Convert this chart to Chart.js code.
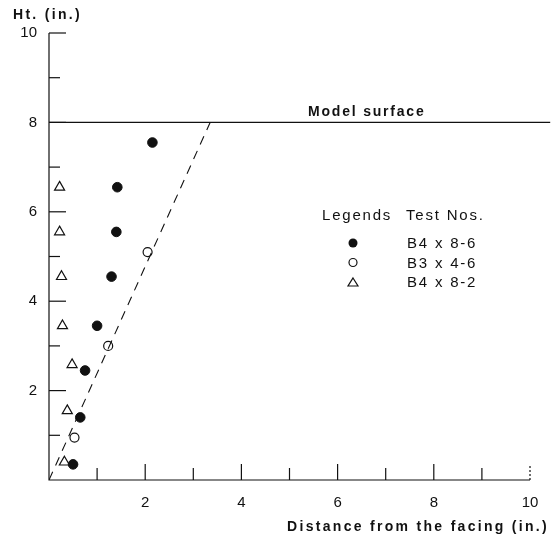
<!DOCTYPE html>
<html>
<head>
<meta charset="utf-8">
<script src="https://cdn.jsdelivr.net/npm/chart.js@4.4.1/dist/chart.umd.min.js"></script>
<style>
  html, body { margin: 0; padding: 0; background: #fff; }
  #wrap { width: 556px; height: 538px; }
</style>
</head>
<body>
<div id="wrap"><canvas id="htChart" width="556" height="538"></canvas></div>
<script>
// readings, x = distance from facing (in.), y = height (in.)
const B4_8_6 = [
  { x: 2.15, y: 7.55 }, { x: 1.42, y: 6.55 }, { x: 1.4, y: 5.55 },
  { x: 1.3, y: 4.55 }, { x: 1.0, y: 3.45 }, { x: 0.75, y: 2.45 },
  { x: 0.65, y: 1.4 }, { x: 0.5, y: 0.35 },
];
const B3_4_6 = [{ x: 2.05, y: 5.1 }, { x: 1.23, y: 3.0 }, { x: 0.53, y: 0.95 }];
const B4_8_2 = [
  { x: 0.22, y: 6.55 }, { x: 0.22, y: 5.55 }, { x: 0.26, y: 4.55 },
  { x: 0.28, y: 3.45 }, { x: 0.48, y: 2.58 }, { x: 0.38, y: 1.55 },
  { x: 0.32, y: 0.4 },
];
const failureLine = [{ x: 0, y: 0 }, { x: 3.35, y: 8 }];
const modelSurface = [{ x: 0, y: 8 }, { x: 10.42, y: 8 }];
const xTicks = [2, 4, 6, 8, 10];
const yTicks = [2, 4, 6, 8, 10];
const legendRows = ["B4 x 8-6", "B3 x 4-6", "B4 x 8-2"];

const INK = "#111";
const FONT = "Liberation Sans, Arial, sans-serif";

// axes with inward ticks, titles and the legend box
const paperPlugin = {
  id: "paper",
  afterDraw(chart) {
    const { ctx } = chart;
    const xs = chart.scales.x;
    const ys = chart.scales.y;
    const x0 = xs.getPixelForValue(0);
    const y0 = ys.getPixelForValue(0);
    ctx.save();
    ctx.strokeStyle = INK;
    ctx.lineWidth = 1.2;
    ctx.beginPath();
    ctx.moveTo(x0, ys.getPixelForValue(10));
    ctx.lineTo(x0, y0);
    ctx.lineTo(xs.getPixelForValue(10), y0);
    ctx.stroke();

    for (let v = 1; v <= 10; v++) {
      const len = v % 2 === 0 ? 17 : 11;
      const py = ys.getPixelForValue(v);
      ctx.beginPath();
      ctx.moveTo(x0, py);
      ctx.lineTo(x0 + len, py);
      ctx.stroke();
      const px = xs.getPixelForValue(v);
      ctx.beginPath();
      if (v === 10) ctx.setLineDash([2, 2]);
      ctx.moveTo(px, y0);
      ctx.lineTo(px, y0 - (v % 2 === 0 ? 16 : 12));
      ctx.stroke();
      ctx.setLineDash([]);
    }

    ctx.fillStyle = INK;
    ctx.textBaseline = "alphabetic";
    ctx.font = "bold 14px " + FONT;
    ctx.letterSpacing = "2.3px";
    ctx.textAlign = "left";
    ctx.fillText("Ht. (in.)", 13, 19);
    ctx.textAlign = "right";
    ctx.fillText("Distance from the facing (in.)", 549, 531);

    ctx.textAlign = "left";
    ctx.letterSpacing = "1.8px";
    ctx.fillText("Model surface", 308, ys.getPixelForValue(8) - 6);

    ctx.font = "15px " + FONT;
    ctx.letterSpacing = "1.8px";
    ctx.fillText("Legends", 322, 220);
    ctx.fillText("Test Nos.", 406, 220);
    legendRows.forEach((t, i) => {
      ctx.fillText(t, 407, 248 + i * 19.5);
    });

    const lx = 353;
    ctx.lineWidth = 1.2;
    ctx.beginPath();
    ctx.arc(lx, 243, 4.5, 0, Math.PI * 2);
    ctx.fill();
    ctx.beginPath();
    ctx.arc(lx, 262.5, 4, 0, Math.PI * 2);
    ctx.stroke();
    ctx.beginPath();
    ctx.moveTo(lx, 278);
    ctx.lineTo(lx + 5, 286);
    ctx.lineTo(lx - 5, 286);
    ctx.closePath();
    ctx.stroke();
    ctx.restore();
  },
};

const htChart = new Chart(document.getElementById("htChart"), {
  type: "scatter",
  data: {
    datasets: [
      {
        label: "Model surface",
        type: "line",
        data: modelSurface,
        borderColor: INK,
        borderWidth: 1.2,
        pointRadius: 0,
        clip: false,
      },
      {
        label: "Failure line",
        type: "line",
        data: failureLine,
        borderColor: INK,
        borderWidth: 1.1,
        borderDash: [9, 7],
        pointRadius: 0,
      },
      {
        label: "B4 x 8-6",
        data: B4_8_6,
        pointStyle: "circle",
        pointRadius: 4.8,
        backgroundColor: INK,
        borderColor: INK,
        borderWidth: 1,
      },
      {
        label: "B3 x 4-6",
        data: B3_4_6,
        pointStyle: "circle",
        pointRadius: 4.5,
        backgroundColor: "#fff",
        borderColor: INK,
        borderWidth: 1.2,
      },
      {
        label: "B4 x 8-2",
        data: B4_8_2,
        pointStyle: "triangle",
        pointRadius: 5.8,
        backgroundColor: "rgba(255,255,255,0)",
        borderColor: INK,
        borderWidth: 1.2,
      },
    ],
  },
  options: {
    responsive: false,
    animation: false,
    layout: { padding: { left: 0, right: 26, top: 33, bottom: 0 } },
    plugins: {
      legend: { display: false },
      tooltip: { enabled: false },
    },
    scales: {
      x: {
        type: "linear",
        min: 0,
        max: 10,
        grid: { display: false, drawTicks: false },
        border: { display: false },
        ticks: {
          stepSize: 2,
          padding: 14,
          color: INK,
          font: { family: FONT, size: 15 },
          callback: (v) => (xTicks.includes(v) ? v : ""),
        },
        afterFit: (s) => { s.height = 58; },
      },
      y: {
        type: "linear",
        min: 0,
        max: 10,
        grid: { display: false, drawTicks: false },
        border: { display: false },
        ticks: {
          stepSize: 2,
          padding: 12,
          color: INK,
          font: { family: FONT, size: 15 },
          callback: (v) => (yTicks.includes(v) ? v : ""),
        },
        afterFit: (s) => { s.width = 49; },
      },
    },
  },
  plugins: [paperPlugin],
});
</script>
</body>
</html>
